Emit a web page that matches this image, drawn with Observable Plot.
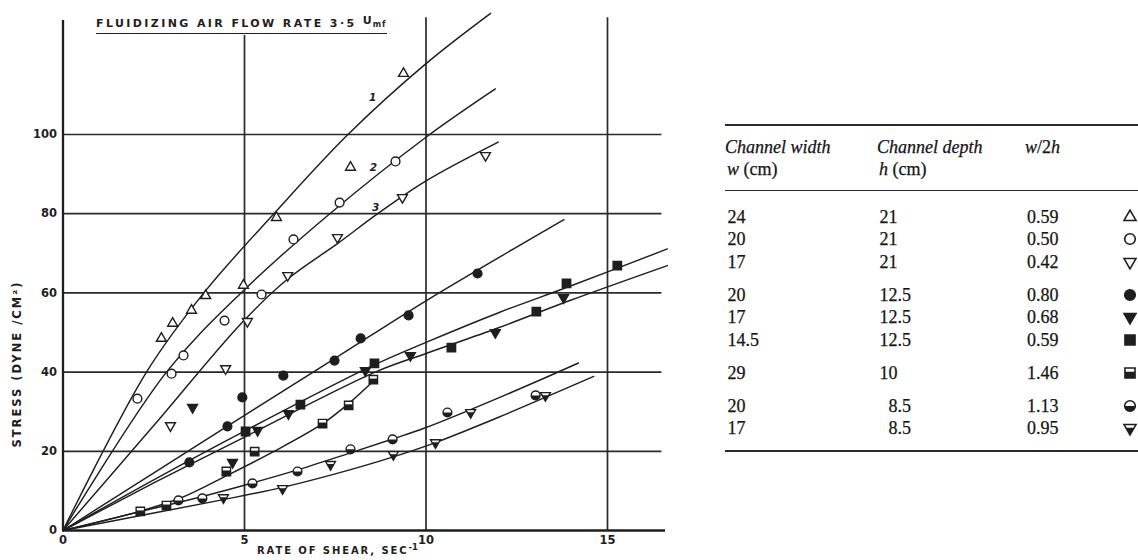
<!DOCTYPE html>
<html><head><meta charset="utf-8">
<script src="https://cdn.jsdelivr.net/npm/d3@7"></script>
<script src="https://cdn.jsdelivr.net/npm/@observablehq/plot@0.6"></script>
<style>
html,body{margin:0;padding:0;background:#fff;}
#wrap{position:relative;width:1138px;height:560px;overflow:hidden;background:#fff;color:#1e1e1e;}
#chart{position:absolute;left:0;top:0;}
.lab{position:absolute;font-family:"DejaVu Sans";font-weight:bold;color:#1e1e1e;white-space:nowrap;}
#title{left:96px;top:18px;font-size:11px;letter-spacing:2.4px;padding-bottom:2px;border-bottom:1.7px solid #1e1e1e;line-height:12px;}
#title .U{font-size:11px;position:relative;top:-3px;letter-spacing:1px;}
#title .mf{font-size:8px;letter-spacing:1px;}
#ylab{left:17px;top:364px;font-size:11.5px;letter-spacing:2px;transform:translate(-50%,-50%) rotate(-90deg);}
#xlab{left:257px;top:545px;font-size:10px;letter-spacing:1.9px;line-height:12px;}
#xlab sup{font-size:8.5px;position:relative;top:-4px;vertical-align:baseline;letter-spacing:0;}
.t{position:absolute;font-family:"Liberation Serif";font-size:18px;line-height:18px;color:#151515;white-space:nowrap;-webkit-text-stroke:0.25px #151515;}
.hrule{position:absolute;left:725px;width:413px;background:#2a2a2a;}
</style></head><body>
<div id="wrap">
 <div id="chart"></div>
 <div class="lab" id="title">FLUIDIZING AIR FLOW RATE 3·5 <span class="U">U</span><span class="mf">mf</span></div>
 <div class="lab" id="ylab">STRESS (DYNE /CM²)</div>
 <div class="lab" id="xlab">RATE OF SHEAR, SEC<sup>-1</sup></div>
 <div id="table"></div>
</div>
<script>
// ---------- data ----------
// measured points [rate of shear (1/s), stress (dyne/cm2)]
const tri24     = [[2.71,48.5],[3.02,52.3],[3.54,55.6],[3.93,59.3],[4.97,61.9],[5.88,79.0],[7.92,91.7],[9.38,115.4]];
const circ20    = [[2.05,33.3],[2.99,39.6],[3.32,44.2],[4.45,53.0],[5.47,59.6],[6.35,73.5],[7.62,82.8],[9.16,93.2]];
const inv17     = [[2.96,26.5],[4.48,40.9],[5.08,52.8],[6.19,64.4],[7.56,74.0],[9.35,84.1],[11.64,94.7]];
const dot20     = [[3.48,17.2],[4.53,26.3],[4.94,33.6],[6.07,39.1],[7.48,42.9],[8.20,48.5],[9.52,54.3],[11.42,64.9]];
const invFill17 = [[3.57,31.1],[4.67,17.2],[5.36,25.3],[6.21,29.5],[8.33,40.4],[9.57,44.2],[11.91,50.0],[13.79,58.8]];
const sq145     = [[5.03,25.0],[6.54,31.8],[8.58,42.2],[10.70,46.2],[13.04,55.3],[13.87,62.4],[15.27,66.9]];
const halfSq29  = [[2.13,4.8],[2.85,6.3],[4.50,14.9],[5.28,19.9],[7.15,27.0],[7.87,31.6],[8.55,38.1]];
const halfCirc20= [[3.18,7.6],[3.84,8.1],[5.22,11.9],[6.46,14.9],[7.92,20.5],[9.08,23.0],[10.59,29.8],[13.02,34.1]];
const halfInv17 = [[4.42,8.3],[6.05,10.6],[7.37,16.7],[9.10,19.2],[10.26,22.2],[11.23,29.8],[13.29,34.1]];

// drawn curves (vertices)
const curve1 = [[0,0],[2.3,40],[3.88,60],[5.81,80],[7.85,100],[10,117.9],[11.78,130.6]];
const curve2 = [[0,0],[2.85,40],[4.94,60.3],[7.35,80],[10,99.3],[11.91,111.5]];
const curve3 = [[0,0],[2.5,26.5],[4.94,52.6],[6.19,63.5],[7.57,72.5],[8.67,80],[10,88.3],[11.99,98.1]];
const curve4 = [[0,0],[4.52,26.3],[7.5,43.5],[10,58],[13.8,78.5]];
const curve5 = [[0,0],[2.5,12.8],[5,25.1],[8.5,41.5],[10,47.5],[12,55],[14,61.8],[16.65,71.1]];
const curve6 = [[0,0],[2.5,12],[5,23.6],[8.6,40],[10,44.7],[12,51.2],[14,58.2],[16.65,66.9]];
const curve7 = [[0,0],[2.13,4.9],[3.24,8.2],[4.52,13.9],[5.8,19.9],[7.14,26.9],[7.9,32.3],[8.66,38.7]];
const curve8 = [[0,0],[2.5,5.6],[3.84,8.6],[5.22,12],[6.46,15.3],[7.92,19.6],[9.08,23.1],[10,26],[12,33.5],[14.2,42.3]];
const curve9 = [[0,0],[2.5,4.4],[4.42,7.8],[6.05,10.9],[7.5,14.3],[9.1,18.6],[10.26,22.2],[12,28.6],[14.62,38.9]];

// curve numbers
const curveLabelText = ["1","2","3"];
const curveLabelX = [8.53, 8.55, 8.61];
const curveLabelY = [109.3, 91.7, 81.6];

// axis ticks
const xTicks = [0,5,10,15];
const yTicks = [0,20,40,60,80,100];

// table
const tableWidth = ["24","20","17","20","17","14.5","29","20","17"];
const tableDepth = ["21","21","21","12.5","12.5","12.5","10","8.5","8.5"];
const tableRatio = ["0.59","0.50","0.42","0.80","0.68","0.59","1.46","1.13","0.95"];
const tableGroup = [0,0,0,1,1,1,2,3,3];

// ---------- symbols ----------
const ink = "#1e1e1e";
const S3 = Math.sqrt(3);
const rad = s => Math.sqrt(s / Math.PI);
const symTriUp = {draw(c,s){const r=rad(s)*1.3; c.moveTo(0,-r); c.lineTo(r*S3/2,r/2); c.lineTo(-r*S3/2,r/2); c.closePath();}};
const symTriDown = {draw(c,s){const r=rad(s)*1.3; c.moveTo(0,r); c.lineTo(r*S3/2,-r/2); c.lineTo(-r*S3/2,-r/2); c.closePath();}};
const symTriDownLow = {draw(c,s){const r=rad(s)*1.3; const cut=-r/2+r*0.45; const hw=(r-cut)/(1.5*r)*r*S3/2; c.moveTo(0,r); c.lineTo(hw,cut); c.lineTo(-hw,cut); c.closePath();}};
const symSquare = {draw(c,s){const h=rad(s)*0.95; c.moveTo(-h,-h); c.lineTo(h,-h); c.lineTo(h,h); c.lineTo(-h,h); c.closePath();}};
const symSquareLow = {draw(c,s){const h=rad(s)*0.95; const t=-h*0.25; c.moveTo(-h,t); c.lineTo(h,t); c.lineTo(h,h); c.lineTo(-h,h); c.closePath();}};
const symCircle = {draw(c,s){const r=rad(s); c.moveTo(r,0); c.arc(0,0,r,0,2*Math.PI); c.closePath();}};
const symCircleLow = {draw(c,s){const r=rad(s); c.moveTo(r,0); c.arc(0,0,r,0,Math.PI); c.closePath();}};

// per series: [data, outline symbol, fill, lower-half symbol]
const seriesSpec = [
  [tri24, symTriUp, "white", null],
  [circ20, symCircle, "white", null],
  [inv17, symTriDown, "white", null],
  [dot20, symCircle, ink, null],
  [invFill17, symTriDown, ink, null],
  [sq145, symSquare, ink, null],
  [halfSq29, symSquare, "white", symSquareLow],
  [halfCirc20, symCircle, "white", symCircleLow],
  [halfInv17, symTriDown, "white", symTriDownLow]
];

const pts = a => a.map(([x,y]) => ({x, y}));
const curves = [curve1,curve2,curve3,curve4,curve5,curve6,curve7,curve8,curve9];

const marks = [];
// grid
marks.push(Plot.ruleY([20,40,60,80,100], {x1:0, x2:16.5, stroke:"#2a2a2a", strokeWidth:1.7}));
marks.push(Plot.ruleX([5,10,15], {y1:0, y2: d => d === 5 ? 125 : 129.5, stroke:"#2a2a2a", strokeWidth:1.7}));
// axes lines
marks.push(Plot.ruleX([0], {y1:0, y2:128.8, stroke:ink, strokeWidth:2.3}));
marks.push(Plot.ruleY([0], {x1:0, x2:16.6, stroke:ink, strokeWidth:2.3}));
marks.push(Plot.axisY(yTicks, {tickSize:0, tickPadding:6, fontSize:11.5, fontWeight:"bold", label:null, fontFamily:"DejaVu Sans"}));
marks.push(Plot.axisX(xTicks, {tickSize:0, tickPadding:5, fontSize:11.5, fontWeight:"bold", label:null, fontFamily:"DejaVu Sans"}));
// curves
for (const c of curves) marks.push(Plot.line(pts(c), {x:"x", y:"y", curve:"catmull-rom", stroke:ink, strokeWidth:1.45}));
// points
for (const [data, sym, fill, low] of seriesSpec) {
  const d = pts(data);
  marks.push(Plot.dot(d, {x:"x", y:"y", symbol:sym, r:4.4, fill, stroke:ink, strokeWidth:1.4}));
  if (low) marks.push(Plot.dot(d, {x:"x", y:"y", symbol:low, r:4.4, fill:ink, stroke:"none"}));
}
// curve numbers
marks.push(Plot.text(curveLabelText.map((t,i) => ({t, x:curveLabelX[i], y:curveLabelY[i]})),
  {x:"x", y:"y", text:"t", fontSize:10.5, fontWeight:"bold", fontStyle:"italic", fill:ink, fontFamily:"DejaVu Sans"}));

const chart = Plot.plot({
  width: 680, height: 560,
  marginLeft: 62.5, marginRight: 680 - 62.5 - 16.7*36.3,
  marginTop: 530 - 132*3.96, marginBottom: 30,
  x: {domain:[0,16.7]},
  y: {domain:[0,132]},
  style: {background:"white", color:ink, overflow:"visible"},
  marks
});
document.getElementById("chart").appendChild(chart);

// ---------- table ----------
const tbl = document.getElementById("table");
function addDiv(cls, text, left, top, extra) {
  const d = document.createElement("div");
  d.className = cls; d.innerHTML = text;
  d.style.left = left + "px"; d.style.top = top + "px";
  if (extra) Object.assign(d.style, extra);
  tbl.appendChild(d); return d;
}
function rule(top, h) { const r = document.createElement("div"); r.className = "hrule"; r.style.top = top + "px"; r.style.height = h + "px"; tbl.appendChild(r); }
rule(124, 1.8); rule(190, 1.4); rule(450, 1.8);
addDiv("t", "<i>Channel width</i>", 725, 138);
addDiv("t", "<i>w</i> (cm)", 727, 160);
addDiv("t", "<i>Channel depth</i>", 877, 138);
addDiv("t", "<i>h</i> (cm)", 879, 160);
addDiv("t", "<i>w</i>/2<i>h</i>", 1025, 138);

const decX = [745.5, 897.5, 1036];
const cols = [tableWidth, tableDepth, tableRatio];
tableGroup.forEach((g, i) => {
  const cy = 217 + i*22.4 + g*10.6;
  cols.forEach((col, j) => {
    const [ip, fp] = col[i].split(".");
    addDiv("t", ip, decX[j] - 60, cy - 9, {width:"60px", textAlign:"right"});
    if (fp !== undefined) addDiv("t", "." + fp, decX[j], cy - 9);
  });
  const [, sym, fill, low] = seriesSpec[i];
  const size = Math.PI * 5.3 * 5.3;
  const svg = d3.create("svg").attr("width", 20).attr("height", 20)
    .style("position","absolute").style("left", (1130-10)+"px").style("top", (cy-10)+"px");
  svg.append("path").attr("transform","translate(10,10)").attr("d", d3.symbol(sym, size)())
    .attr("fill", fill).attr("stroke", ink).attr("stroke-width", 1.6);
  if (low) svg.append("path").attr("transform","translate(10,10)").attr("d", d3.symbol(low, size)()).attr("fill", ink);
  tbl.appendChild(svg.node());
});
</script>
</body></html>
